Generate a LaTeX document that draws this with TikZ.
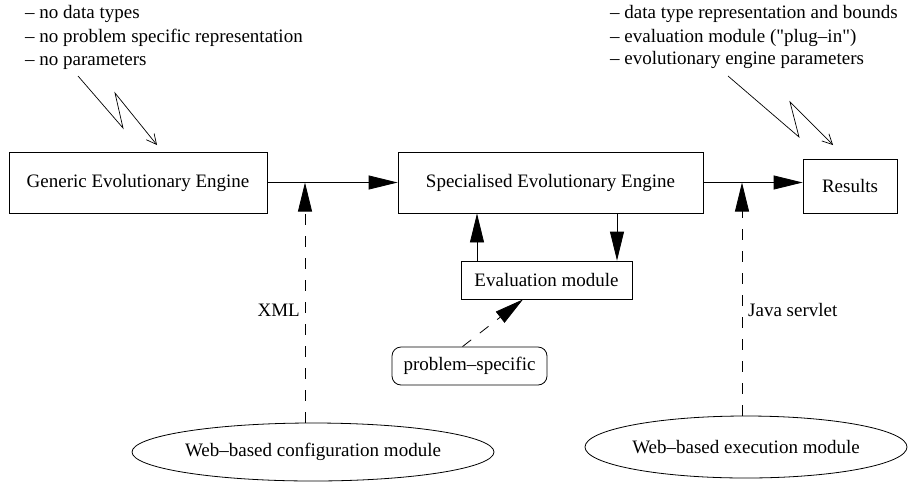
\documentclass[tikz,border=0pt]{standalone}
\usepackage{fontspec}
\setmainfont{Liberation Serif}[Ligatures=TeXOff]
\usetikzlibrary{arrows.meta,shapes.geometric,calc}
\begin{document}
\begin{tikzpicture}[x=1pt,y=-1pt, font=\fontsize{19}{23}\selectfont,
  box/.style={draw, line width=0.8pt, inner sep=0pt},
  conn/.style={line width=0.8pt, -{Triangle[length=29pt,width=14pt]}},
  dconn/.style={conn, dash pattern=on 11pt off 11pt},
  bolt/.style={line width=0.7pt, -{Straight Barb[length=10pt,width=10pt]}},
  lbl/.style={inner sep=0pt, anchor=base west}]
\useasboundingbox (0,0) rectangle (910,483);
% main boxes
\node[box, minimum width=258pt, minimum height=61pt] (gen) at (138,182.5) {Generic Evolutionary Engine};
\node[box, minimum width=305pt, minimum height=61pt] (spec) at (550.5,182.5) {Specialised Evolutionary Engine};
\node[box, minimum width=94pt, minimum height=54pt] (res) at (850,186) {Results};
\node[box, minimum width=171pt, minimum height=38pt] (eval) at (546.5,280) {Evaluation module};
\node[box, rounded corners=9pt, minimum width=155pt, minimum height=38pt] (prob) at (469.5,366) {problem–specific};
\node[draw, line width=0.8pt, ellipse, inner sep=0pt, minimum width=360pt, minimum height=58pt] (cfg) at (313,452) {Web–based configuration module};
\node[draw, line width=0.8pt, ellipse, inner sep=0pt, minimum width=322pt, minimum height=62pt] (exe) at (746,447) {Web–based execution module};
% solid connectors
\draw[conn] (gen.east) -- (spec.west);
\draw[conn] (spec.east) -- (spec.east -| res.west);
\coordinate (ua) at (477,0);
\coordinate (da) at (617,0);
\draw[conn] (eval.north -| ua) -- (spec.south -| ua);
\draw[conn] (spec.south -| da) -- (eval.north -| da);
% dashed connectors
\coordinate (xl) at (305,182.5);
\coordinate (jl) at (742,182.5);
\draw[dconn] (cfg.north -| xl) -- (xl);
\draw[dconn] (exe.north -| jl) -- (jl);
\draw[dconn] ([xshift=-7pt]prob.north) -- ([xshift=-23.5pt]eval.south);
\node[inner sep=0pt, anchor=east] (xmllbl) at (300,310) {XML};
\node[inner sep=0pt, anchor=west] (javalbl) at (748,310) {Java servlet};
% left notes
\node[lbl] (l1) at (25,18) {– no data types};
\node[lbl] (l2) at (25,42) {– no problem specific representation};
\node[lbl] (l3) at (25,65) {– no parameters};
\draw[bolt] (78,76) -- (123,128) -- (115,93) -- (157,145);
% right notes
\node[lbl] (r1) at (610,18) {– data type representation and bounds};
\node[lbl] (r2) at (610,42) {– evaluation module ("plug–in")};
\node[lbl] (r3) at (610,64) {– evolutionary engine parameters};
\draw[bolt] (728,76) -- (799,137) -- (790,102) -- (833,145);
\end{tikzpicture}
\end{document}
